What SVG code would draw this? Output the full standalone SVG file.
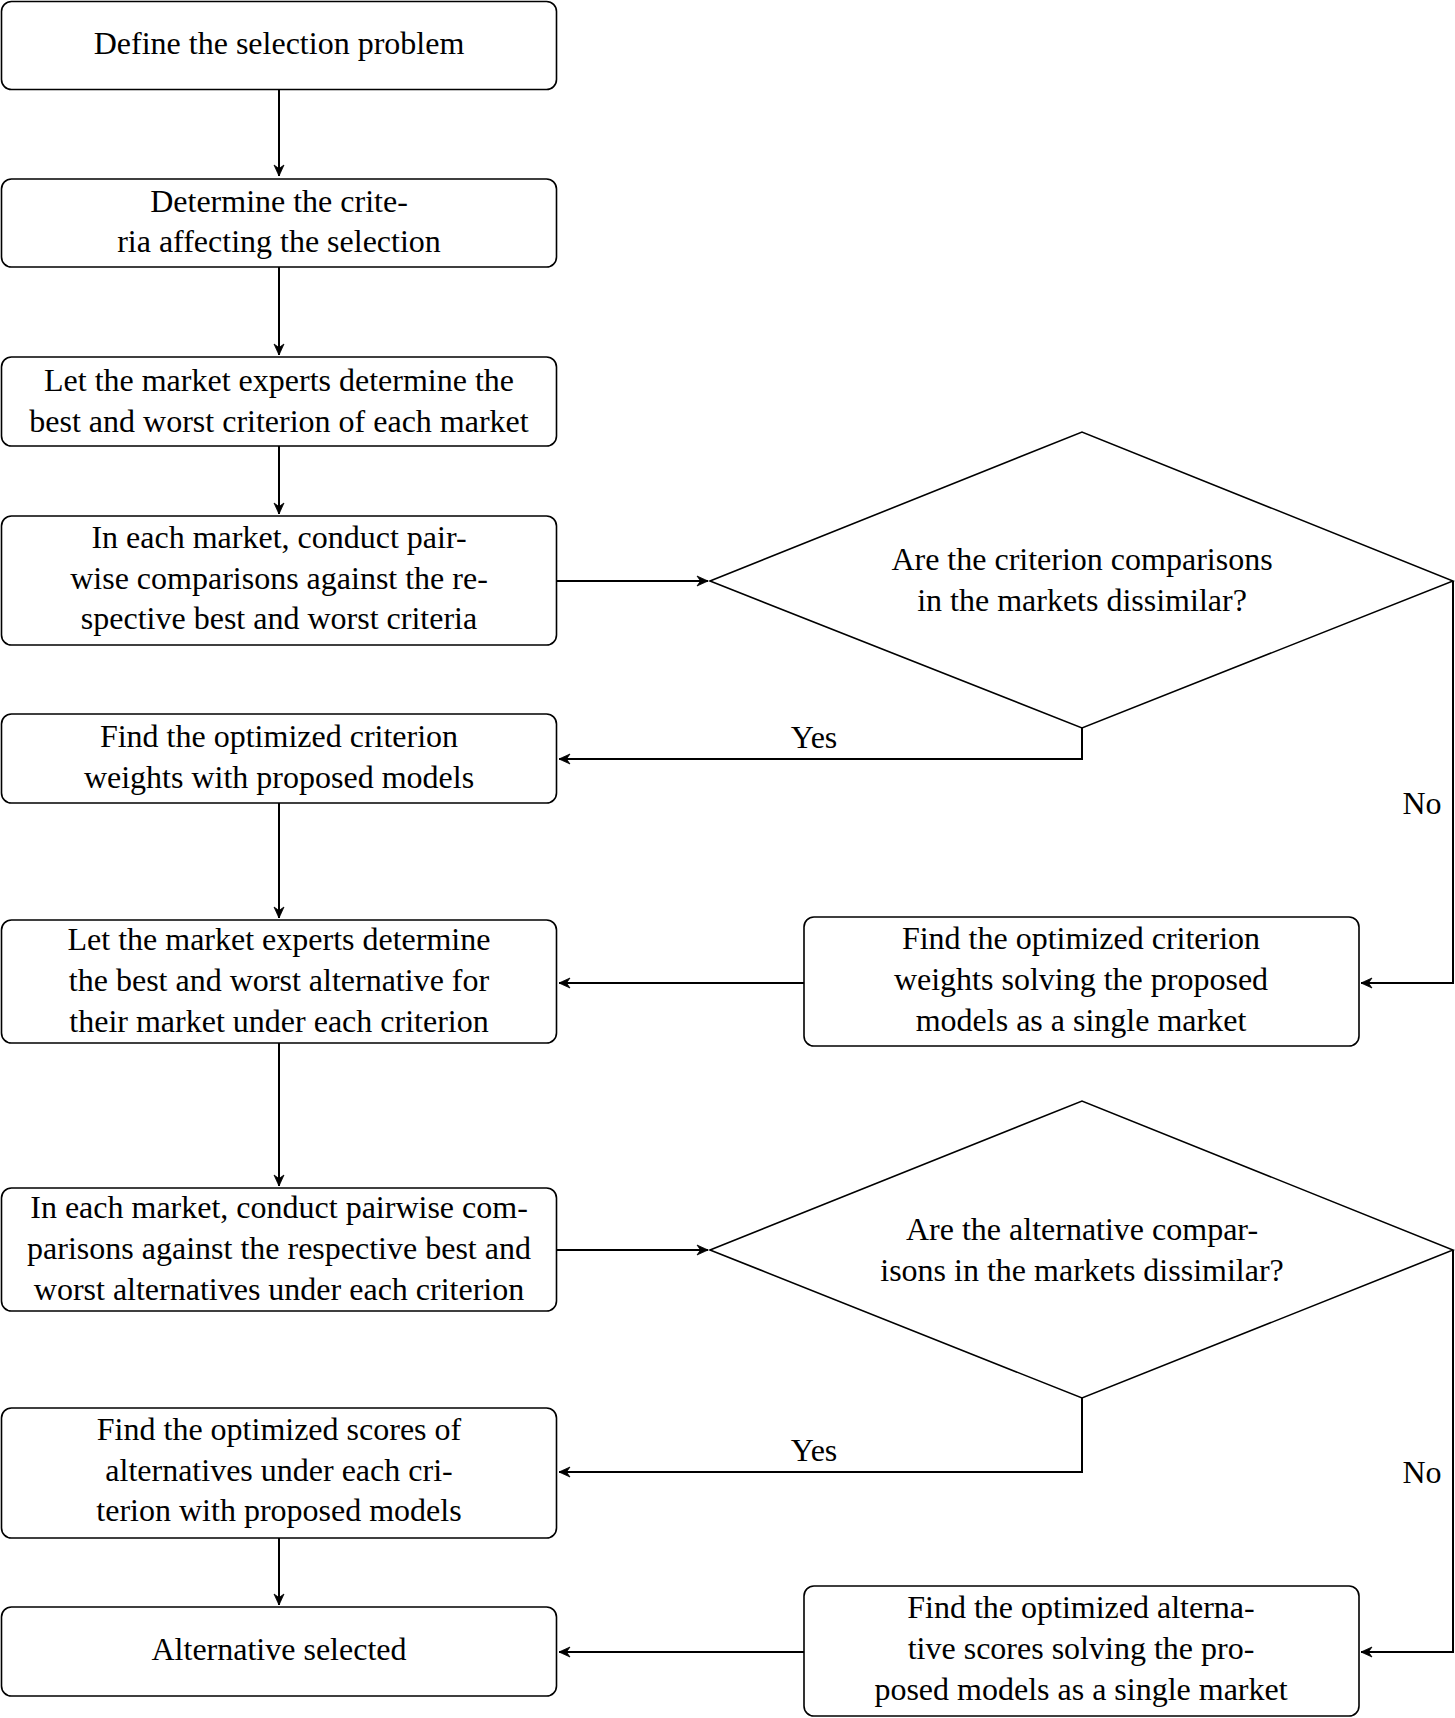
<svg xmlns="http://www.w3.org/2000/svg" width="1455" height="1718" viewBox="0 0 1455 1718">
<style>
.box{fill:#fff;stroke:#000;stroke-width:1.6}
.dia{fill:#fff;stroke:#000;stroke-width:1.6}
.t{font-family:"Liberation Serif","Times New Roman",serif;font-size:32px;fill:#000;text-anchor:middle}
.c{fill:none;stroke:#000;stroke-width:2}
</style>
<defs>
<marker id="arr" markerUnits="userSpaceOnUse" markerWidth="14" markerHeight="14" refX="0" refY="0" viewBox="-12 -7 14 14" orient="auto" overflow="visible">
<path d="M0,0 L-11,-5 L-7.5,0 L-11,5 Z" fill="#000" stroke="#000" stroke-width="0.8" stroke-linejoin="round"/>
</marker>
</defs>
<rect width="1455" height="1718" fill="#fff"/>
<g id="connectors">
<path class="c" d="M279,89 V176" marker-end="url(#arr)"/>
<path class="c" d="M279,267 V355" marker-end="url(#arr)"/>
<path class="c" d="M279,446 V514" marker-end="url(#arr)"/>
<path class="c" d="M557,581 H708" marker-end="url(#arr)"/>
<path class="c" d="M1082,728 V759 H559" marker-end="url(#arr)"/>
<path class="c" d="M1453,581 V983 H1361" marker-end="url(#arr)"/>
<path class="c" d="M804,983 H559" marker-end="url(#arr)"/>
<path class="c" d="M279,803 V918" marker-end="url(#arr)"/>
<path class="c" d="M279,1043 V1186" marker-end="url(#arr)"/>
<path class="c" d="M557,1250 H708" marker-end="url(#arr)"/>
<path class="c" d="M1082,1398 V1472 H559" marker-end="url(#arr)"/>
<path class="c" d="M1453,1250 V1652 H1361" marker-end="url(#arr)"/>
<path class="c" d="M279,1538 V1605" marker-end="url(#arr)"/>
<path class="c" d="M804,1652 H559" marker-end="url(#arr)"/>
<text class="t" x="814" y="748">Yes</text>
<text class="t" x="1422" y="814">No</text>
<text class="t" x="814" y="1461">Yes</text>
<text class="t" x="1422" y="1483">No</text>
</g>
<g id="n1">
<rect class="box" x="1.5" y="1.5" width="555" height="88" rx="10"/>
<text class="t" x="279" y="54">Define the selection problem</text>
</g>
<g id="n2">
<rect class="box" x="1.5" y="179" width="555" height="88" rx="10"/>
<text class="t" x="279" y="212">Determine the crite-</text>
<text class="t" x="279" y="252">ria affecting the selection</text>
</g>
<g id="n3">
<rect class="box" x="1.5" y="357" width="555" height="89" rx="10"/>
<text class="t" x="279" y="391">Let the market experts determine the</text>
<text class="t" x="279" y="432">best and worst criterion of each market</text>
</g>
<g id="n4">
<rect class="box" x="1.5" y="516" width="555" height="129" rx="10"/>
<text class="t" x="279" y="548">In each market, conduct pair-</text>
<text class="t" x="279" y="589">wise comparisons against the re-</text>
<text class="t" x="279" y="629">spective best and worst criteria</text>
</g>
<g id="d1">
<polygon class="dia" points="710,581 1082,432 1453,581 1082,728"/>
<text class="t" x="1082" y="570">Are the criterion comparisons</text>
<text class="t" x="1082" y="611">in the markets dissimilar?</text>
</g>
<g id="n5">
<rect class="box" x="1.5" y="714" width="555" height="89" rx="10"/>
<text class="t" x="279" y="747">Find the optimized criterion</text>
<text class="t" x="279" y="788">weights with proposed models</text>
</g>
<g id="r1">
<rect class="box" x="804" y="917" width="555" height="129" rx="10"/>
<text class="t" x="1081" y="949">Find the optimized criterion</text>
<text class="t" x="1081" y="990">weights solving the proposed</text>
<text class="t" x="1081" y="1031">models as a single market</text>
</g>
<g id="n6">
<rect class="box" x="1.5" y="920" width="555" height="123" rx="10"/>
<text class="t" x="279" y="950">Let the market experts determine</text>
<text class="t" x="279" y="991">the best and worst alternative for</text>
<text class="t" x="279" y="1032">their market under each criterion</text>
</g>
<g id="n7">
<rect class="box" x="1.5" y="1188" width="555" height="123" rx="10"/>
<text class="t" x="279" y="1218">In each market, conduct pairwise com-</text>
<text class="t" x="279" y="1259">parisons against the respective best and</text>
<text class="t" x="279" y="1300">worst alternatives under each criterion</text>
</g>
<g id="d2">
<polygon class="dia" points="710,1250 1082,1101 1453,1250 1082,1398"/>
<text class="t" x="1082" y="1240">Are the alternative compar-</text>
<text class="t" x="1082" y="1281">isons in the markets dissimilar?</text>
</g>
<g id="n8">
<rect class="box" x="1.5" y="1408" width="555" height="130" rx="10"/>
<text class="t" x="279" y="1440">Find the optimized scores of</text>
<text class="t" x="279" y="1481">alternatives under each cri-</text>
<text class="t" x="279" y="1521">terion with proposed models</text>
</g>
<g id="n9">
<rect class="box" x="1.5" y="1607" width="555" height="89" rx="10"/>
<text class="t" x="279" y="1660">Alternative selected</text>
</g>
<g id="r2">
<rect class="box" x="804" y="1586" width="555" height="130" rx="10"/>
<text class="t" x="1081" y="1618">Find the optimized alterna-</text>
<text class="t" x="1081" y="1659">tive scores solving the pro-</text>
<text class="t" x="1081" y="1700">posed models as a single market</text>
</g>
</svg>
